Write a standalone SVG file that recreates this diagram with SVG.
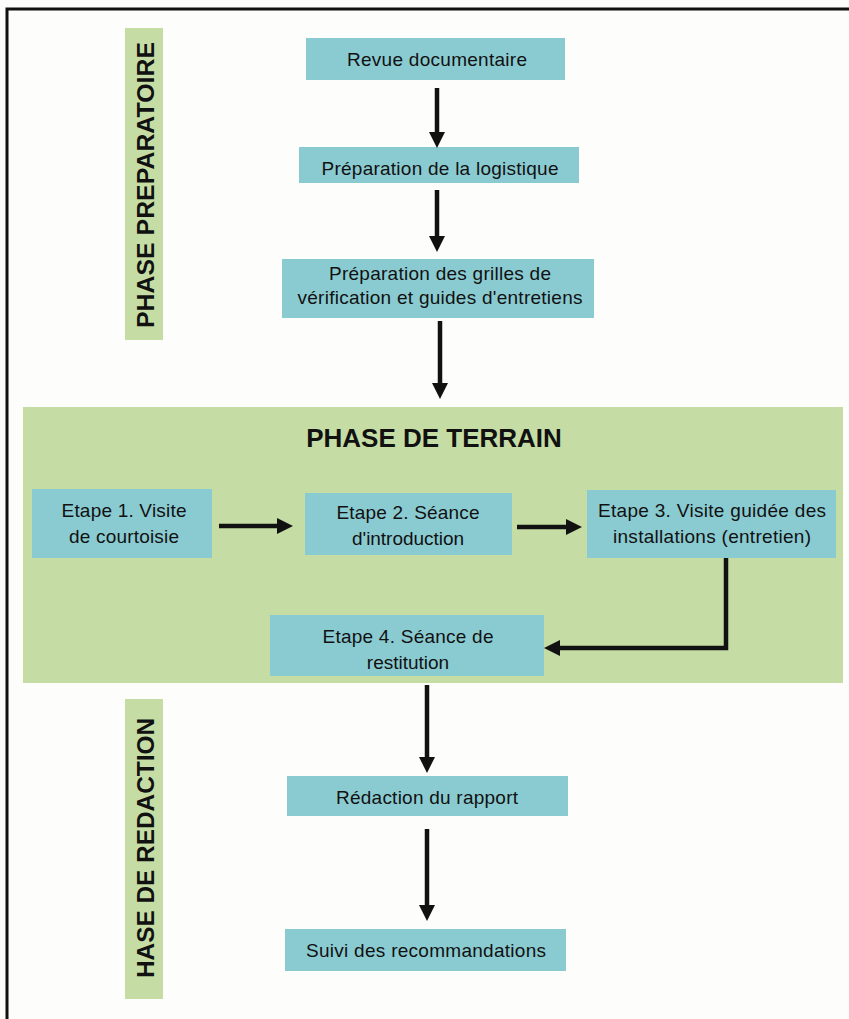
<svg xmlns="http://www.w3.org/2000/svg" width="849" height="1019" viewBox="0 0 849 1019">
<defs>
<style>
.box{fill:#8ACBD2;}
.zone{fill:#C5DDA4;}
.t{font-family:"Liberation Sans",Arial,sans-serif;font-size:19px;fill:#111;text-anchor:middle;}
.b{font-family:"Liberation Sans",Arial,sans-serif;font-weight:bold;fill:#111;text-anchor:middle;}
.c{fill:none;stroke:#111;stroke-width:4.5;}
</style>
<marker id="ah" markerUnits="userSpaceOnUse" markerWidth="16" markerHeight="16" viewBox="0 0 16 16" refX="1" refY="8" orient="auto">
<path d="M0,0 L16,8 L0,16 z" fill="#111"/>
</marker>
</defs>
<rect x="0" y="0" width="849" height="1019" fill="#FDFDFB"/>
<path d="M7,1019 V9 H849" fill="none" stroke="#111" stroke-width="3"/>

<g id="phase-preparatoire">
<rect class="zone" x="125" y="28" width="38" height="312"/>
<text class="b" font-size="24" transform="translate(154,185) rotate(-90)" textLength="286" lengthAdjust="spacingAndGlyphs">PHASE PREPARATOIRE</text>
</g>
<g id="phase-terrain">
<rect class="zone" x="23" y="407" width="820" height="276"/>
<text class="b" font-size="26" x="434" y="447">PHASE DE TERRAIN</text>
</g>
<g id="phase-redaction">
<rect class="zone" x="125" y="699" width="38" height="300"/>
<text class="b" font-size="24" transform="translate(154,848) rotate(-90)" textLength="260" lengthAdjust="spacingAndGlyphs">HASE DE REDACTION</text>
</g>

<g id="revue">
<rect class="box" x="306" y="38" width="259" height="42"/>
<text class="t" x="437" y="66" textLength="180" lengthAdjust="spacing">Revue documentaire</text>
</g>
<g id="logistique">
<rect class="box" x="299" y="147" width="280" height="36"/>
<text class="t" x="440" y="175" textLength="237" lengthAdjust="spacing">Préparation de la logistique</text>
</g>
<g id="grilles">
<rect class="box" x="282" y="259" width="312" height="59"/>
<text class="t" x="440" y="280" textLength="222" lengthAdjust="spacing">Préparation des grilles de</text>
<text class="t" x="440" y="304" textLength="285" lengthAdjust="spacing">vérification et guides d'entretiens</text>
</g>
<g id="etape1">
<rect class="box" x="32" y="489" width="180" height="69"/>
<text class="t" x="124" y="517" textLength="125" lengthAdjust="spacing">Etape 1. Visite</text>
<text class="t" x="124" y="543" textLength="110" lengthAdjust="spacing">de courtoisie</text>
</g>
<g id="etape2">
<rect class="box" x="305" y="493" width="207" height="62"/>
<text class="t" x="408" y="519" textLength="143" lengthAdjust="spacing">Etape 2. Séance</text>
<text class="t" x="408" y="545" textLength="112" lengthAdjust="spacing">d'introduction</text>
</g>
<g id="etape3">
<rect class="box" x="587" y="490" width="249" height="68"/>
<text class="t" x="712" y="517" textLength="228" lengthAdjust="spacing">Etape 3. Visite guidée des</text>
<text class="t" x="712" y="543" textLength="198" lengthAdjust="spacing">installations (entretien)</text>
</g>
<g id="etape4">
<rect class="box" x="270" y="615" width="274" height="61"/>
<text class="t" x="408" y="643" textLength="171" lengthAdjust="spacing">Etape 4. Séance de</text>
<text class="t" x="408" y="669">restitution</text>
</g>
<g id="redaction">
<rect class="box" x="287" y="776" width="281" height="40"/>
<text class="t" x="427" y="804" textLength="182" lengthAdjust="spacing">Rédaction du rapport</text>
</g>
<g id="suivi">
<rect class="box" x="285" y="929" width="281" height="42"/>
<text class="t" x="426" y="957" textLength="240" lengthAdjust="spacing">Suivi des recommandations</text>
</g>

<g id="connectors">
<path class="c" d="M437,88 V133" marker-end="url(#ah)"/>
<path class="c" d="M437,190 V237" marker-end="url(#ah)"/>
<path class="c" d="M440,321 V384" marker-end="url(#ah)"/>
<path class="c" d="M219,526 H278" marker-end="url(#ah)"/>
<path class="c" d="M517,527 H567" marker-end="url(#ah)"/>
<path class="c" d="M726,558 V648 H559" marker-end="url(#ah)"/>
<path class="c" d="M427,685 V758" marker-end="url(#ah)"/>
<path class="c" d="M427,829 V906" marker-end="url(#ah)"/>
</g>
</svg>
